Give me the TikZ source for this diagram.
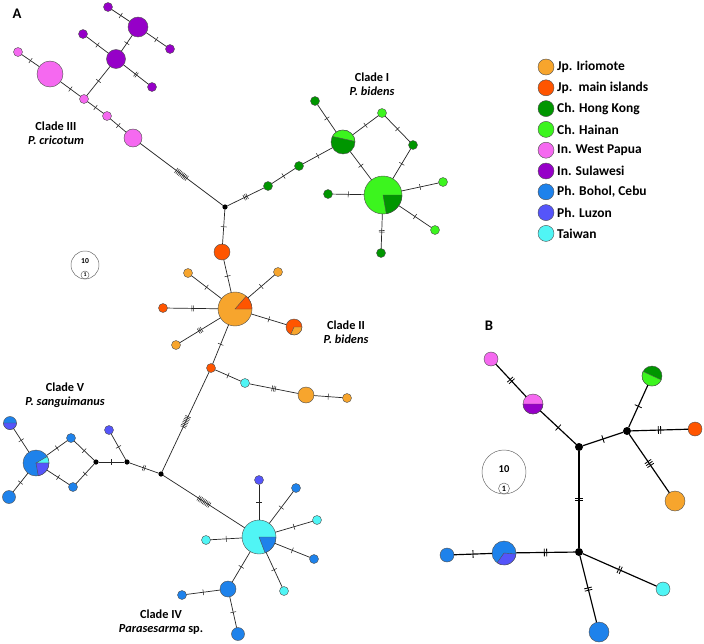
\documentclass[tikz,border=0pt]{standalone}
\usepackage{fontspec}
\setmainfont{Carlito}
\usepackage{xcolor}
\definecolor{iriomote}{RGB}{247,165,45}
\definecolor{mainisl}{RGB}{255,85,0}
\definecolor{hongkong}{RGB}{0,150,0}
\definecolor{hainan}{RGB}{60,245,30}
\definecolor{papua}{RGB}{245,105,240}
\definecolor{sulawesi}{RGB}{150,0,200}
\definecolor{bohol}{RGB}{30,130,235}
\definecolor{luzon}{RGB}{85,85,250}
\definecolor{taiwan}{RGB}{80,245,245}
\definecolor{nodeline}{RGB}{80,80,80}
\usetikzlibrary{positioning, decorations.markings}

\tikzset{
  hap/.style 2 args={circle, draw=nodeline, line width=0.35pt, fill=#1, inner sep=0pt, outer sep=0pt, minimum size=#2*0.06cm},
  junc/.style={circle, fill=black, inner sep=0pt, outer sep=0pt, minimum size=#1*0.06cm},
  link/.style={draw=black!85, line width=0.6pt},
  linkb/.style={draw=black, line width=1pt},
  mut/.style={postaction={decorate, decoration={markings, mark=at position 0.5 with {\foreach \k in {1,...,#1}{\draw[line width=0.45pt] ({(\k-(#1+1)/2)*1.4pt},-2.5pt) -- ({(\k-(#1+1)/2)*1.4pt},2.5pt);}}}}},
  mutb/.style={postaction={decorate, decoration={markings, mark=at position 0.5 with {\foreach \k in {1,...,#1}{\draw[line width=0.7pt] ({(\k-(#1+1)/2)*2pt},-3.3pt) -- ({(\k-(#1+1)/2)*2pt},3.3pt);}}}}},
  clade/.style={font=\fontsize{10.5}{12}\selectfont\bfseries, align=center},
  keytext/.style={font=\fontsize{11.5}{13}\selectfont\bfseries, inner sep=1pt},
  scalering/.style={circle, draw=black!60, line width=0.4pt, inner sep=0pt, outer sep=0pt, minimum size=#1*0.06cm}
}

% wedge from the centre and chord segment of a haplotype circle
\newcommand{\pieslice}[5]{\filldraw[fill=#5, draw=nodeline, line width=0.35pt] (#1.center) -- (#1.#3) arc[start angle=#3, end angle=#4, radius=#2*0.03cm] -- cycle;}
\newcommand{\segslice}[5]{\filldraw[fill=#5, draw=nodeline, line width=0.35pt] (#1.#3) arc[start angle=#3, end angle=#4, radius=#2*0.03cm] -- cycle;}

\begin{document}
\begin{tikzpicture}[x=0.03cm, y=-0.03cm]
  \useasboundingbox (0,0) rectangle (704,643);
  \fill[white] (0,0) rectangle (704,643);

  \node[font=\fontsize{12.5}{14}\selectfont\bfseries] (panelA) at (17,14) {A};
  \node[font=\fontsize{12.5}{14}\selectfont\bfseries] (panelB) at (489,326) {B};

  % Clade III
  \node[hap={sulawesi}{4.5}] (s1) at (108,7) {};
  \node[hap={sulawesi}{10}] (s2) at (138,27) {};
  \node[hap={sulawesi}{4.5}] (s3) at (170,49) {};
  \node[hap={sulawesi}{9.5}] (s4) at (116,59) {};
  \node[hap={sulawesi}{4.5}] (s5) at (83,34) {};
  \node[hap={sulawesi}{4.5}] (s6) at (152,87) {};
  \node[hap={papua}{4.5}] (w1) at (18,52) {};
  \node[hap={papua}{13}] (w2) at (50,74) {};
  \node[hap={papua}{4.5}] (w3) at (84,99) {};
  \node[hap={papua}{4.5}] (w4) at (107,116) {};
  \node[hap={papua}{9}] (w5) at (133,138) {};
  \node[junc=2.6] (j1) at (225,207) {};
  \node[clade] (c3) at (56,133) {Clade III\\\itshape P. cricotum};

  \draw[link, mut=1] (s1) -- (s2);
  \draw[link, mut=1] (s2) -- (s3);
  \draw[link, mut=1] (s2) -- (s4);
  \draw[link, mut=1] (s4) -- (s5);
  \draw[link, mut=2] (s4) -- (s6);
  \draw[link, mut=1] (s4) -- (w3);
  \draw[link, mut=1] (w1) -- (w2);
  \draw[link, mut=1] (w2) -- (w3);
  \draw[link, mut=1] (w3) -- (w4);
  \draw[link, mut=1] (w4) -- (w5);
  \draw[link, mut=9] (w5) -- (j1);

  % Clade I
  \node[hap={hongkong}{4.5}] (g1) at (268,186) {};
  \node[hap={hongkong}{4.5}] (g2) at (299,166) {};
  \node[hap={hongkong}{12}] (g3) at (343,142) {};
  \node[hap={hongkong}{4.5}] (g4) at (315,101) {};
  \node[hap={hainan}{4.5}] (g5) at (382,113) {};
  \node[hap={hongkong}{4.5}] (g6) at (413,145) {};
  \node[hap={hainan}{19}] (g7) at (383,195) {};
  \node[hap={hongkong}{4.5}] (g8) at (328,194) {};
  \node[hap={hainan}{4.5}] (g9) at (443,182) {};
  \node[hap={hainan}{4.5}] (g10) at (435,230) {};
  \node[hap={hongkong}{4.5}] (g11) at (381,253) {};
  \segslice{g3}{12}{3}{152}{hainan}
  \pieslice{g7}{19}{280}{360}{hongkong}
  \node[clade] (c1) at (372,84) {Clade I\\\itshape P. bidens};

  \draw[link, mut=3] (j1) -- (g1);
  \draw[link, mut=1] (g1) -- (g2);
  \draw[link, mut=1] (g2) -- (g3);
  \draw[link, mut=1] (g3) -- (g4);
  \draw[link, mut=1] (g3) -- (g5);
  \draw[link, mut=1] (g5) -- (g6);
  \draw[link, mut=1] (g6) -- (g7);
  \draw[link, mut=1] (g3) -- (g7);
  \draw[link, mut=1] (g7) -- (g8);
  \draw[link, mut=1] (g7) -- (g9);
  \draw[link, mut=1] (g7) -- (g10);
  \draw[link, mut=2] (g7) -- (g11);

  % Clade II
  \node[hap={mainisl}{8}] (o1) at (222,252) {};
  \node[hap={iriomote}{17}] (o2) at (235,309) {};
  \node[hap={iriomote}{4.5}] (o3) at (188,273) {};
  \node[hap={iriomote}{4.5}] (o4) at (278,272) {};
  \node[hap={mainisl}{4.5}] (o5) at (163,308) {};
  \node[hap={iriomote}{4.5}] (o6) at (176,345) {};
  \node[hap={mainisl}{8}] (o7) at (294,327) {};
  \node[hap={mainisl}{4.5}] (o8) at (211,368) {};
  \node[hap={taiwan}{4.5}] (o9) at (245,383) {};
  \node[hap={iriomote}{8}] (o10) at (306,395) {};
  \node[hap={iriomote}{4.5}] (o11) at (347,398) {};
  \pieslice{o2}{17}{0}{49}{mainisl}
  \pieslice{o7}{8}{246}{360}{iriomote}
  \node[clade] (c2) at (346,332) {Clade II\\\itshape P. bidens};

  \draw[link, mut=1] (j1) -- (o1);
  \draw[link, mut=1] (o1) -- (o2);
  \draw[link, mut=1] (o2) -- (o3);
  \draw[link, mut=1] (o2) -- (o4);
  \draw[link, mut=2] (o2) -- (o5);
  \draw[link, mut=3] (o2) -- (o6);
  \draw[link, mut=1] (o2) -- (o7);
  \draw[link, mut=1] (o2) -- (o8);
  \draw[link, mut=1] (o8) -- (o9);
  \draw[link, mut=3] (o9) -- (o10);
  \draw[link, mut=1] (o10) -- (o11);

  % Clade V
  \node[junc=2.6] (j2) at (161,474) {};
  \node[junc=2.6] (j3) at (127,462) {};
  \node[junc=2.6] (j4) at (96,462) {};
  \node[hap={luzon}{4.5}] (v1) at (109,430) {};
  \node[hap={bohol}{4.5}] (v2) at (71,438) {};
  \node[hap={bohol}{4.5}] (v3) at (73,487) {};
  \node[hap={bohol}{13}] (v4) at (36,463) {};
  \node[hap={bohol}{6.5}] (v5) at (10,423) {};
  \node[hap={bohol}{6.5}] (v6) at (9,497) {};
  \pieslice{v4}{13}{0}{30}{taiwan}
  \pieslice{v4}{13}{280}{360}{luzon}
  \segslice{v5}{6.5}{180}{360}{luzon}
  \node[clade] (c5) at (65,395) {Clade V\\\itshape P. sanguimanus};

  \draw[link, mut=8] (o8) -- (j2);
  \draw[link, mut=2] (j2) -- (j3);
  \draw[link, mut=1] (j3) -- (j4);
  \draw[link, mut=1] (j3) -- (v1);
  \draw[link, mut=1] (j4) -- (v2);
  \draw[link, mut=1] (j4) -- (v3);
  \draw[link, mut=1] (v2) -- (v4);
  \draw[link, mut=1] (v3) -- (v4);
  \draw[link, mut=1] (v4) -- (v5);
  \draw[link, mut=1] (v4) -- (v6);

  % Clade IV
  \node[hap={taiwan}{17}] (t1) at (259,537) {};
  \node[hap={luzon}{4.5}] (t2) at (259,480) {};
  \node[hap={bohol}{4.5}] (t3) at (296,488) {};
  \node[hap={taiwan}{4.5}] (t4) at (317,520) {};
  \node[hap={bohol}{4.5}] (t5) at (314,559) {};
  \node[hap={taiwan}{4.5}] (t6) at (284,591) {};
  \node[hap={taiwan}{4.5}] (t7) at (206,540) {};
  \node[hap={bohol}{8}] (t8) at (228,589) {};
  \node[hap={bohol}{4.5}] (t9) at (182,595) {};
  \node[hap={bohol}{6.5}] (t10) at (238,634) {};
  \pieslice{t1}{17}{291}{360}{bohol}
  \node[clade] (c4) at (161,622) {Clade IV\\\textit{Parasesarma} sp.};

  \draw[link, mut=9] (j2) -- (t1);
  \draw[link, mut=1] (t1) -- (t2);
  \draw[link, mut=1] (t1) -- (t3);
  \draw[link, mut=1] (t1) -- (t4);
  \draw[link, mut=1] (t1) -- (t5);
  \draw[link, mut=1] (t1) -- (t6);
  \draw[link, mut=1] (t1) -- (t7);
  \draw[link, mut=1] (t1) -- (t8);
  \draw[link, mut=1] (t8) -- (t9);
  \draw[link, mut=1] (t8) -- (t10);

  % Scale, panel A
  \node[scalering=14] (ringA) at (85,265) {};
  \node[scalering=4, font=\fontsize{5}{5}\selectfont\bfseries] (oneA) at (85,275) {1};
  \node[font=\fontsize{6.5}{7}\selectfont\bfseries] (tenA) at (85,261) {10};

  % Legend
  \foreach \c/\t [count=\i from 0] in {iriomote/Jp. Iriomote, mainisl/Jp.\ \ main islands, hongkong/Ch. Hong Kong, hainan/Ch. Hainan, papua/In. West Papua, sulawesi/In. Sulawesi, bohol/{Ph. Bohol, Cebu}, luzon/Ph. Luzon, taiwan/Taiwan}{
    \node[hap={\c}{8}] (key\i) at (546,{67+20.8*\i}) {};
    \node[keytext, right=1.5pt of key\i] (lab\i) {\t};
  }

  % Panel B
  \node[hap={papua}{7}] (b1) at (491,359) {};
  \node[hap={papua}{10}] (b2) at (533,404) {};
  \node[junc=4] (bj1) at (579,447) {};
  \node[junc=4] (bj2) at (627,431) {};
  \node[hap={hongkong}{10}] (b3) at (652,376) {};
  \node[hap={mainisl}{7}] (b4) at (695,429) {};
  \node[hap={iriomote}{10}] (b5) at (675,501) {};
  \node[junc=4] (bj3) at (579,552) {};
  \node[hap={bohol}{12}] (b6) at (504,553) {};
  \node[hap={bohol}{7}] (b7) at (447,555) {};
  \node[hap={taiwan}{7}] (b8) at (663,589) {};
  \node[hap={bohol}{10}] (b9) at (599,632) {};
  \segslice{b2}{10}{180}{360}{sulawesi}
  \segslice{b3}{10}{153}{337}{hainan}
  \pieslice{b6}{12}{235}{355}{luzon}

  \draw[linkb, mutb=2] (b1) -- (b2);
  \draw[linkb, mutb=1] (b2) -- (bj1);
  \draw[linkb, mutb=1] (bj1) -- (bj2);
  \draw[linkb, mutb=1] (bj2) -- (b3);
  \draw[linkb, mutb=2] (bj2) -- (b4);
  \draw[linkb, mutb=3] (bj2) -- (b5);
  \draw[linkb, mutb=2] (bj1) -- (bj3);
  \draw[linkb, mutb=2] (bj3) -- (b6);
  \draw[linkb, mutb=1] (b6) -- (b7);
  \draw[linkb, mutb=2] (bj3) -- (b8);
  \draw[linkb, mutb=2] (bj3) -- (b9);

  % Scale, panel B
  \node[scalering=22] (ringB) at (504,472) {};
  \node[scalering=5.5, font=\fontsize{7}{7}\selectfont\bfseries] (oneB) at (504,488.5) {1};
  \node[font=\fontsize{9}{10}\selectfont\bfseries] (tenB) at (504,469) {10};
\end{tikzpicture}
\end{document}
